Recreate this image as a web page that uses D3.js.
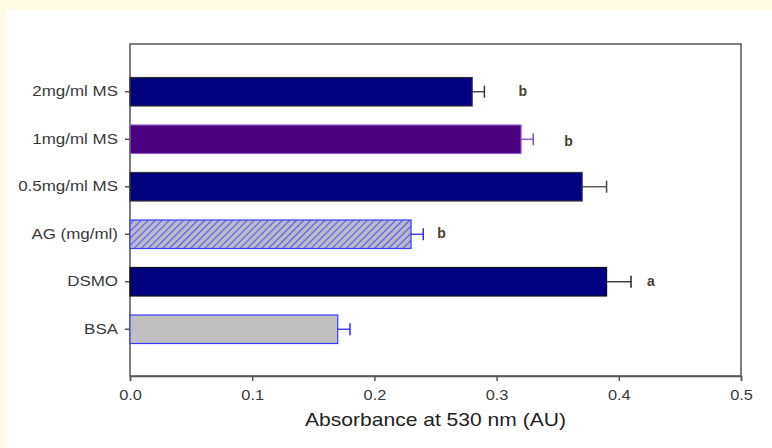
<!DOCTYPE html>
<html>
<head>
<meta charset="utf-8">
<script src="https://cdn.jsdelivr.net/npm/d3@7"></script>
<style>
  body { margin: 0; background: #fffbe6; }
  svg { display: block; }
</style>
</head>
<body>
<svg id="chart"></svg>
<script>
// 数据
const groups = ['2mg/ml MS', '1mg/ml MS', '0.5mg/ml MS', 'AG (mg/ml)', 'DSMO', 'BSA']
const absorbance = [0.28, 0.32, 0.37, 0.23, 0.39, 0.17]
const errors = [0.01, 0.01, 0.02, 0.01, 0.02, 0.01]
const letters = ['b', 'b', '', 'b', 'a', '']
const xTicks = [0, 0.1, 0.2, 0.3, 0.4, 0.5]

// 样式
const fills = ['#000080', '#4b0082', '#000080', 'url(#hatch)', '#000080', '#c0c0c0']
const strokes = ['#333', '#8a5cc8', '#333', '#3a3aff', '#111', '#3a3aff']
const errColors = ['#333', '#7a4cc0', '#444', '#2a2aff', '#222', '#2a2aff']
const letterOffsets = [34, 31, 0, 14, 16, 0]
const fontFamily = 'Liberation Sans, Arial, sans-serif'
// 原图文字横向略被拉伸
const stretch = 1.17

const width = 772, height = 448
const plotLeft = 130, plotRight = 741, plotTop = 44, plotBottom = 376

const svg = d3.select('#chart').attr('width', width).attr('height', height)

// 白色面板
svg.append('rect').attr('x', 6).attr('y', 10)
    .attr('width', width - 6).attr('height', height - 10).attr('fill', '#fff')

const defs = svg.append('defs')
const pat = defs.append('pattern').attr('id', 'hatch')
    .attr('patternUnits', 'userSpaceOnUse').attr('width', 5).attr('height', 5)
    .attr('patternTransform', 'rotate(45)')
pat.append('rect').attr('width', 5).attr('height', 5).attr('fill', '#b8b8c8')
pat.append('line').attr('x1', 0).attr('y1', 0).attr('x2', 0).attr('y2', 5)
    .attr('stroke', '#3a3aff').attr('stroke-width', 1.6)

const x = d3.scaleLinear().domain([0, 0.5]).range([plotLeft, plotRight])
const y = d3.scaleBand().domain(groups).range([68, 353])
    .paddingInner(0.4).paddingOuter(0.2)

// 边框
svg.append('rect').attr('x', plotLeft).attr('y', plotTop)
    .attr('width', plotRight - plotLeft).attr('height', plotBottom - plotTop)
    .attr('fill', 'none').attr('stroke', '#555').attr('stroke-width', 1.5)

// 坐标轴
const xAxis = svg.append('g').attr('transform', `translate(0,${plotBottom})`)
    .call(d3.axisBottom(x).tickValues(xTicks).tickFormat(d3.format('.1f')).tickSize(5).tickSizeOuter(5))
xAxis.select('.domain').attr('stroke', '#555').attr('stroke-width', 1.5)
xAxis.selectAll('.tick line').attr('stroke', '#555').attr('stroke-width', 1.5)
xAxis.selectAll('text').attr('font-family', fontFamily)
    .attr('font-size', 14).attr('fill', '#3a3a3a').attr('dy', '1.15em')
    .attr('transform', `scale(${stretch},1)`)

const yAxis = svg.append('g').attr('transform', `translate(${plotLeft},0)`)
    .call(d3.axisLeft(y).tickSize(5).tickSizeOuter(0))
yAxis.select('.domain').remove()
yAxis.selectAll('.tick line').attr('stroke', '#555').attr('stroke-width', 1.5)
yAxis.selectAll('text').attr('font-family', fontFamily)
    .attr('font-size', 14.5).attr('fill', '#3a3a3a').attr('x', -12 / stretch)
    .attr('transform', `scale(${stretch},1)`)

// 柱子
svg.append('g').selectAll('rect').data(groups).enter()
    .append('rect')
    .attr('x', x(0))
    .attr('y', d => y(d))
    .attr('width', (d, i) => x(absorbance[i]) - x(0))
    .attr('height', y.bandwidth())
    .attr('fill', (d, i) => fills[i])
    .attr('stroke', (d, i) => strokes[i])
    .attr('stroke-width', 1.2)

// 误差线
const err = svg.append('g')
groups.forEach((g, i) => {
    const cy = y(g) + y.bandwidth() / 2
    const x1 = x(absorbance[i]), x2 = x(absorbance[i] + errors[i])
    err.append('line').attr('x1', x1).attr('x2', x2).attr('y1', cy).attr('y2', cy)
        .attr('stroke', errColors[i]).attr('stroke-width', 1.3)
    err.append('line').attr('x1', x2).attr('x2', x2).attr('y1', cy - 6).attr('y2', cy + 6)
        .attr('stroke', errColors[i]).attr('stroke-width', 1.5)
})

// 显著性字母
svg.append('g').selectAll('text').data(groups).enter()
    .append('text')
    .text((d, i) => letters[i])
    .attr('x', (d, i) => x(absorbance[i] + errors[i]) + letterOffsets[i])
    .attr('y', (d, i) => y(d) + y.bandwidth() / 2 + (i === 1 ? 7 : 4))
    .attr('font-family', fontFamily)
    .attr('font-size', 14).attr('font-weight', 'bold').attr('fill', '#4a4030')

// 轴标题
const titleX = (plotLeft + plotRight) / 2
svg.append('text').attr('x', titleX / stretch).attr('y', 426)
    .attr('text-anchor', 'middle')
    .attr('transform', `scale(${stretch},1)`)
    .attr('font-family', fontFamily)
    .attr('font-size', 18).attr('fill', '#222')
    .text('Absorbance at 530 nm (AU)')
</script>
</body>
</html>
